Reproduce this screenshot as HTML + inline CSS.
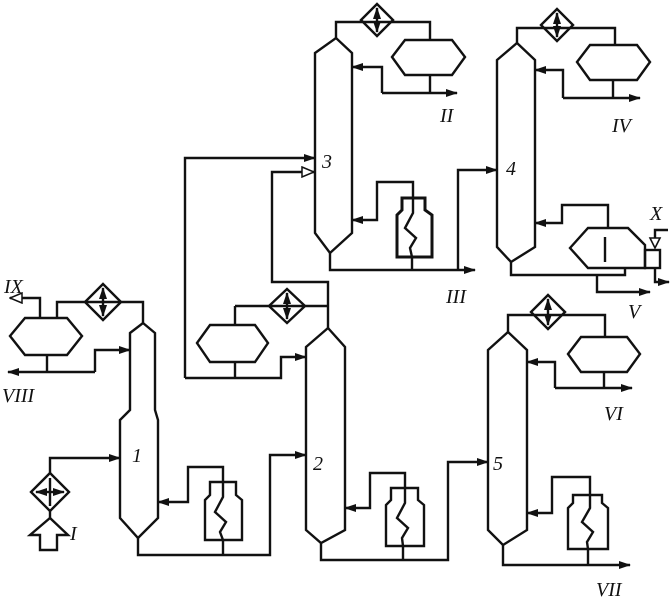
<!DOCTYPE html>
<html><head><meta charset="utf-8"><style>
html,body{margin:0;padding:0;background:#fff}
svg{display:block}
text{font-family:"Liberation Serif",serif;font-style:italic;font-size:20px;fill:#111}
</style></head><body>
<svg width="670" height="600" viewBox="0 0 670 600" xmlns="http://www.w3.org/2000/svg">
<defs>
<marker id="a" markerWidth="12" markerHeight="10" refX="11" refY="5" orient="auto" markerUnits="userSpaceOnUse"><path d="M0,1 L12,5 L0,9 Z" fill="#111"/></marker>
<marker id="h" markerWidth="14" markerHeight="12" refX="13" refY="6" orient="auto" markerUnits="userSpaceOnUse"><path d="M1,1 L13,6 L1,11 Z" fill="#fff" stroke="#111" stroke-width="1.5"/></marker>
</defs>
<g fill="none" stroke="#111" stroke-width="2.4" stroke-linejoin="miter">
<path d="M130,333 L143,323 L155,333 L155,410 L158,420 L158,518 L138,538 L120,518 L120,420 L130,410 Z"/>
<path d="M306,347 L328,328 L345,347 L345,530 L321,543 L306,530 Z"/>
<path d="M315,53 L336,38 L352,53 L352,233 L330,253 L315,233 Z"/>
<path d="M497,60 L517,43 L535,60 L535,247 L511,262 L497,247 Z"/>
<path d="M488,350 L508,332 L527,350 L527,530 L503,545 L488,530 Z"/>

<polygon points="10,336 25,318 67,318 82,336 67,355 25,355"/>
<polygon points="197,343 210,325 255,325 268,343 255,362 210,362"/>
<polygon points="392,57 405,40 452,40 465,57 452,75 405,75"/>
<polygon points="577,62 590,45 637,45 650,62 637,80 590,80"/>
<polygon points="568,354 581,337 627,337 640,354 627,372 581,372"/>

<polygon points="103,284 121,302 103,320 85,302"/>
<polygon points="287,289 305,306 287,323 269,306"/>
<polygon points="377,4 393,20 377,36 361,20"/>
<polygon points="557,9 573,25 557,41 541,25"/>
<polygon points="548,295 565,312 548,329 531,312"/>
<polygon points="50,473 69,492 50,511 31,492"/>
</g>
<g stroke="#111" stroke-width="2.4">
<line x1="103" y1="302" x2="103" y2="288" marker-end="url(#a)"/><line x1="103" y1="302" x2="103" y2="316" marker-end="url(#a)"/>
<line x1="287" y1="306" x2="287" y2="293" marker-end="url(#a)"/><line x1="287" y1="306" x2="287" y2="319" marker-end="url(#a)"/>
<line x1="377" y1="20" x2="377" y2="8" marker-end="url(#a)"/><line x1="377" y1="20" x2="377" y2="32" marker-end="url(#a)"/>
<line x1="557" y1="25" x2="557" y2="13" marker-end="url(#a)"/><line x1="557" y1="25" x2="557" y2="37" marker-end="url(#a)"/>
<line x1="548" y1="312" x2="548" y2="299" marker-end="url(#a)"/><line x1="548" y1="312" x2="548" y2="325" marker-end="url(#a)"/>
<line x1="50" y1="492" x2="36" y2="492" marker-end="url(#a)"/><line x1="50" y1="492" x2="64" y2="492" marker-end="url(#a)"/>
<line x1="50" y1="478" x2="50" y2="506"/>
</g>
<g fill="none" stroke="#111" stroke-width="2.4">
<path d="M205,540 L205,500 L210,495 L210,482 L236,482 L236,495 L242,500 L242,540 Z"/>
<path d="M223,482 L223,497 L215,512 L226,522 L220,532 L223,540"/>
<path d="M386,546 L386,505 L391,500 L391,488 L418,488 L418,500 L424,505 L424,546 Z"/>
<path d="M405,488 L405,503 L397,518 L408,528 L402,538 L403,546"/>
<path d="M397,257 L397,215 L402,210 L402,198 L425,198 L425,210 L432,215 L432,257 Z" stroke-width="3"/>
<path d="M413,198 L413,213 L405,228 L416,238 L410,248 L412,257"/>
<path d="M568,549 L568,508 L573,503 L573,495 L602,495 L602,503 L608,508 L608,549 Z"/>
<path d="M590,495 L590,508 L582,522 L593,532 L587,542 L588,549"/>
<polygon points="570,248 588,228 628,228 645,245 645,268 588,268"/>
<line x1="605" y1="237" x2="605" y2="262"/>
<rect x="645" y="250" width="15" height="18"/>
<polygon points="650,238 660,238 655,248" stroke-width="1.6"/>
<polyline points="655,238 655,230 668,230"/>
<polygon points="50,518 68,535 57,535 57,550 40,550 40,535 30,535"/>
<line x1="50" y1="511" x2="50" y2="518"/>

<polyline points="143,323 143,302 57,302 57,318"/>
<polyline points="40,318 40,298 10,298" marker-end="url(#h)"/>
<line x1="47" y1="355" x2="47" y2="372"/>
<polyline points="95,372 8,372" marker-end="url(#a)"/>
<polyline points="95,372 95,350 130,350" marker-end="url(#a)"/>
<polyline points="50,473 50,458 120,458" marker-end="url(#a)"/>
<polyline points="223,482 223,467 188,467 188,502 158,502" marker-end="url(#a)"/>
<line x1="223" y1="540" x2="223" y2="555"/>
<polyline points="138,538 138,555 270,555 270,455 306,455" marker-end="url(#a)"/>

<polyline points="328,328 328,282 272,282 272,172 314,172" marker-end="url(#h)"/>
<polyline points="235,306 328,306"/>
<line x1="235" y1="306" x2="235" y2="325"/>
<line x1="235" y1="362" x2="235" y2="378"/>
<polyline points="185,378 281,378 281,357 306,357" marker-end="url(#a)"/>
<polyline points="185,378 185,158 315,158" marker-end="url(#a)"/>
<polyline points="405,488 405,473 370,473 370,508 345,508" marker-end="url(#a)"/>
<polyline points="321,543 321,560 448,560 448,462 488,462" marker-end="url(#a)"/>
<line x1="403" y1="546" x2="403" y2="560"/>

<polyline points="336,38 336,22 430,22 430,40"/>
<line x1="430" y1="75" x2="430" y2="93"/>
<polyline points="382,93 457,93" marker-end="url(#a)"/>
<polyline points="382,93 382,67 352,67" marker-end="url(#a)"/>
<polyline points="413,198 413,182 377,182 377,220 352,220" marker-end="url(#a)"/>
<polyline points="330,253 330,270 475,270" marker-end="url(#a)"/>
<line x1="412" y1="257" x2="412" y2="270"/>
<polyline points="458,270 458,170 497,170" marker-end="url(#a)"/>

<polyline points="517,43 517,28 615,28 615,45"/>
<line x1="613" y1="80" x2="613" y2="98"/>
<polyline points="563,98 640,98" marker-end="url(#a)"/>
<polyline points="563,98 563,70 535,70" marker-end="url(#a)"/>
<polyline points="608,228 608,205 562,205 562,223 535,223" marker-end="url(#a)"/>
<polyline points="511,262 511,275 625,275 625,268"/>
<polyline points="597,275 597,292 650,292" marker-end="url(#a)"/>
<polyline points="655,268 655,282 669,282" marker-end="url(#a)"/>

<polyline points="508,332 508,315 605,315 605,337"/>
<line x1="604" y1="372" x2="604" y2="388"/>
<polyline points="555,388 632,388" marker-end="url(#a)"/>
<polyline points="555,388 555,362 527,362" marker-end="url(#a)"/>
<polyline points="590,495 590,477 552,477 552,513 527,513" marker-end="url(#a)"/>
<polyline points="503,545 503,565 630,565" marker-end="url(#a)"/>
<line x1="588" y1="549" x2="588" y2="565"/>
</g>

<text x="132" y="462">1</text>
<text x="313" y="470">2</text>
<text x="322" y="168">3</text>
<text x="506" y="175">4</text>
<text x="493" y="470">5</text>
<text x="70" y="540">I</text>
<text x="440" y="122">II</text>
<text x="446" y="303">III</text>
<text x="612" y="132">IV</text>
<text x="628" y="318">V</text>
<text x="604" y="420">VI</text>
<text x="596" y="596">VII</text>
<text x="2" y="402">VIII</text>
<text x="4" y="293">IX</text>
<text x="650" y="220">X</text>
</svg>
</body></html>
